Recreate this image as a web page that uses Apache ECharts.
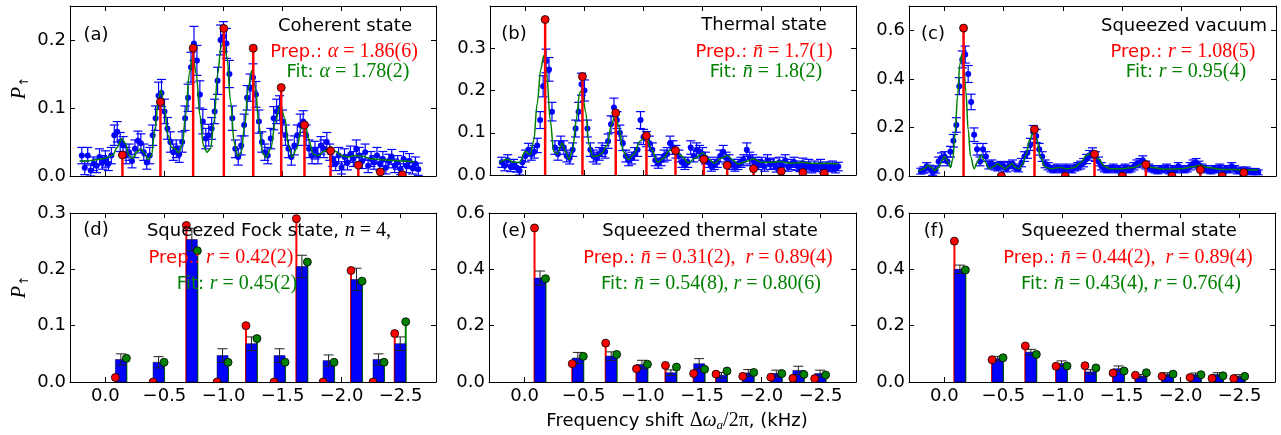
<!DOCTYPE html>
<html><head><meta charset="utf-8">
<script src="https://cdn.jsdelivr.net/npm/echarts@6/dist/echarts.min.js"></script>
<style>html,body{margin:0;padding:0;background:#fff}#c{width:1281px;height:435px}</style>
</head><body><div id="c"></div>
<script>
// ---------- top panels: scan grid (kHz) ----------
const scanStart = 0.2, scanStep = -0.025;

// (a) coherent state
const dataA = [0.030,0.012,0.030,0.008,0.018,0.015,0.028,0.020,0.025,0.018,
0.030,0.060,0.065,0.050,0.045,0.030,0.035,0.022,0.040,0.052,
0.048,0.035,0.020,0.030,0.060,0.085,0.118,0.122,0.095,0.070,
0.050,0.035,0.040,0.032,0.050,0.085,0.115,0.160,0.195,0.170,
0.120,0.080,0.055,0.060,0.070,0.095,0.140,0.200,0.205,0.195,
0.150,0.085,0.040,0.028,0.045,0.075,0.115,0.130,0.145,0.120,
0.080,0.050,0.035,0.030,0.055,0.085,0.095,0.100,0.080,0.060,
0.040,0.028,0.045,0.060,0.075,0.080,0.060,0.040,0.030,0.038,
0.030,0.045,0.040,0.050,0.035,0.025,0.018,0.030,0.012,0.028,
0.020,0.032,0.025,0.040,0.030,0.022,0.035,0.015,0.025,0.020,
0.030,0.018,0.025,0.012,0.022,0.028,0.015,0.020,0.010,0.025,
0.015,0.022,0.012,0.018,0.010];
const errA = [0.012,0.010,0.012,0.008,0.010,0.010,0.012,0.010,0.012,0.010,
0.012,0.015,0.015,0.014,0.013,0.012,0.012,0.010,0.013,0.014,
0.014,0.012,0.010,0.012,0.015,0.018,0.020,0.020,0.018,0.016,
0.015,0.012,0.013,0.012,0.015,0.018,0.020,0.022,0.025,0.022,
0.020,0.018,0.015,0.016,0.016,0.018,0.020,0.022,0.022,0.022,
0.020,0.018,0.013,0.012,0.014,0.016,0.018,0.020,0.020,0.019,
0.017,0.015,0.012,0.012,0.015,0.017,0.018,0.018,0.017,0.015,
0.013,0.012,0.014,0.015,0.016,0.016,0.015,0.013,0.012,0.013,
0.012,0.013,0.013,0.014,0.012,0.011,0.010,0.012,0.009,0.012,
0.011,0.012,0.011,0.013,0.012,0.011,0.012,0.010,0.011,0.010,
0.012,0.010,0.011,0.009,0.010,0.011,0.010,0.010,0.008,0.011,
0.010,0.011,0.009,0.010,0.009];
// fit curve, listed as [|shift| kHz, P]
const fitA = [[-0.22,0.022],[-0.15,0.022],[-0.08,0.024],[0.00,0.026],[0.06,0.030],[0.10,0.042],[0.14,0.055],[0.17,0.048],[0.20,0.030],[0.23,0.026],[0.27,0.036],[0.30,0.040],[0.33,0.034],[0.36,0.024],[0.39,0.030],[0.42,0.070],[0.45,0.115],[0.47,0.126],[0.50,0.100],[0.53,0.060],[0.56,0.042],[0.59,0.040],[0.62,0.034],[0.65,0.045],[0.68,0.090],[0.71,0.150],[0.74,0.177],[0.77,0.150],[0.80,0.090],[0.83,0.045],[0.86,0.035],[0.89,0.040],[0.92,0.080],[0.95,0.150],[0.98,0.190],[1.00,0.198],[1.03,0.175],[1.06,0.110],[1.09,0.050],[1.12,0.029],[1.15,0.035],[1.18,0.075],[1.21,0.130],[1.24,0.155],[1.27,0.130],[1.30,0.075],[1.33,0.035],[1.36,0.027],[1.40,0.040],[1.44,0.080],[1.48,0.104],[1.52,0.085],[1.55,0.045],[1.58,0.028],[1.62,0.040],[1.66,0.070],[1.69,0.078],[1.72,0.055],[1.76,0.032],[1.80,0.030],[1.85,0.036],[1.91,0.043],[1.95,0.036],[2.00,0.030],[2.05,0.028],[2.12,0.030],[2.18,0.029],[2.25,0.025],[2.33,0.024],[2.42,0.023],[2.52,0.022],[2.62,0.021]];
const stemPosA = [-0.144,-0.466,-0.743,-1.003,-1.252,-1.489,-1.686,-1.907,-2.142,-2.329,-2.515];
const prepA = [0.031,0.109,0.188,0.217,0.188,0.130,0.075,0.037,0.016,0.006,0.002];

// (b) thermal state
const dataB = [0.030,0.022,0.035,0.020,0.025,0.018,0.010,0.030,0.045,0.060,
0.050,0.055,0.070,0.130,0.210,0.270,0.250,0.150,0.065,0.050,
0.075,0.065,0.045,0.040,0.060,0.110,0.150,0.215,0.200,0.110,
0.060,0.045,0.040,0.050,0.060,0.055,0.080,0.120,0.160,0.130,
0.100,0.075,0.045,0.035,0.040,0.050,0.060,0.130,0.090,0.085,
0.075,0.060,0.035,0.028,0.035,0.045,0.050,0.075,0.065,0.055,
0.045,0.030,0.025,0.030,0.065,0.045,0.060,0.055,0.050,0.040,
0.030,0.020,0.025,0.030,0.045,0.055,0.040,0.035,0.025,0.020,
0.025,0.030,0.035,0.060,0.040,0.035,0.030,0.025,0.030,0.020,
0.035,0.025,0.028,0.018,0.030,0.022,0.035,0.020,0.025,0.030,
0.022,0.018,0.028,0.020,0.025,0.015,0.022,0.018,0.025,0.015,
0.020,0.018,0.022,0.015,0.020];
const errB = [0.012,0.012,0.013,0.012,0.012,0.011,0.010,0.012,0.014,0.015,
0.015,0.015,0.017,0.020,0.025,0.028,0.028,0.022,0.016,0.015,
0.017,0.016,0.014,0.014,0.016,0.020,0.022,0.026,0.025,0.020,
0.016,0.014,0.014,0.015,0.016,0.015,0.017,0.020,0.022,0.020,
0.018,0.017,0.014,0.013,0.014,0.015,0.016,0.020,0.018,0.018,
0.017,0.016,0.013,0.012,0.013,0.014,0.015,0.017,0.016,0.015,
0.014,0.012,0.012,0.012,0.016,0.014,0.016,0.015,0.015,0.014,
0.012,0.011,0.012,0.012,0.014,0.015,0.014,0.013,0.012,0.011,
0.012,0.012,0.013,0.016,0.014,0.013,0.012,0.012,0.012,0.011,
0.013,0.012,0.012,0.011,0.012,0.011,0.013,0.011,0.012,0.012,
0.011,0.010,0.012,0.011,0.012,0.010,0.011,0.010,0.012,0.010,
0.011,0.010,0.011,0.010,0.010];
const fitB = [[-0.22,0.030],[-0.15,0.037],[-0.10,0.030],[-0.05,0.030],[0.00,0.056],[0.04,0.048],[0.07,0.080],[0.10,0.170],[0.13,0.250],[0.155,0.283],[0.18,0.240],[0.21,0.130],[0.24,0.055],[0.27,0.050],[0.31,0.075],[0.34,0.055],[0.37,0.037],[0.40,0.060],[0.43,0.130],[0.46,0.195],[0.48,0.200],[0.51,0.150],[0.54,0.070],[0.57,0.044],[0.61,0.045],[0.65,0.052],[0.69,0.070],[0.73,0.120],[0.76,0.144],[0.79,0.115],[0.83,0.055],[0.87,0.036],[0.92,0.050],[0.97,0.080],[1.02,0.092],[1.07,0.060],[1.12,0.030],[1.17,0.040],[1.22,0.058],[1.27,0.064],[1.32,0.045],[1.38,0.029],[1.44,0.040],[1.50,0.052],[1.55,0.038],[1.60,0.028],[1.66,0.040],[1.71,0.046],[1.76,0.035],[1.80,0.026],[1.87,0.032],[1.93,0.038],[2.00,0.030],[2.08,0.030],[2.15,0.032],[2.25,0.028],[2.35,0.030],[2.45,0.027],[2.55,0.027],[2.65,0.026]];
const stemPosB = [-0.167,-0.483,-0.765,-1.025,-1.271,-1.511,-1.709,-1.932,-2.167,-2.350,-2.531];
const prepB = [0.368,0.233,0.147,0.093,0.058,0.037,0.023,0.015,0.009,0.006,0.004];

// (c) squeezed vacuum
const dataC = [0.020,0.025,0.040,0.030,0.015,0.025,0.060,0.075,0.080,0.060,
0.100,0.145,0.210,0.370,0.480,0.500,0.420,0.305,0.170,0.110,
0.060,0.110,0.080,0.045,0.050,0.040,0.035,0.045,0.040,0.030,
0.045,0.050,0.035,0.030,0.055,0.080,0.095,0.130,0.180,0.165,
0.110,0.080,0.050,0.040,0.030,0.025,0.035,0.030,0.025,0.035,
0.030,0.025,0.035,0.040,0.045,0.055,0.070,0.085,0.095,0.080,
0.060,0.040,0.030,0.025,0.030,0.035,0.025,0.030,0.020,0.035,
0.025,0.030,0.040,0.050,0.055,0.065,0.045,0.035,0.030,0.025,
0.020,0.030,0.025,0.035,0.020,0.030,0.025,0.040,0.030,0.025,
0.030,0.040,0.050,0.055,0.045,0.035,0.030,0.025,0.020,0.030,
0.025,0.035,0.020,0.030,0.025,0.040,0.030,0.020,0.025,0.015,
0.025,0.020,0.015,0.020,0.015];
const errC = [0.012,0.013,0.015,0.014,0.012,0.013,0.018,0.020,0.020,0.018,
0.022,0.026,0.030,0.035,0.035,0.035,0.035,0.032,0.028,0.024,
0.018,0.024,0.020,0.016,0.016,0.015,0.014,0.015,0.015,0.013,
0.015,0.016,0.014,0.013,0.017,0.020,0.022,0.025,0.028,0.027,
0.024,0.020,0.016,0.015,0.013,0.012,0.014,0.013,0.012,0.014,
0.013,0.012,0.014,0.015,0.016,0.017,0.019,0.020,0.021,0.020,
0.018,0.015,0.013,0.012,0.013,0.014,0.012,0.013,0.012,0.014,
0.012,0.013,0.015,0.016,0.017,0.018,0.016,0.014,0.013,0.012,
0.011,0.013,0.012,0.014,0.011,0.013,0.012,0.015,0.013,0.012,
0.013,0.015,0.016,0.017,0.016,0.014,0.013,0.012,0.011,0.013,
0.012,0.014,0.011,0.013,0.012,0.015,0.013,0.011,0.012,0.010,
0.012,0.011,0.010,0.011,0.010];
const fitC = [[-0.22,0.020],[-0.17,0.030],[-0.14,0.044],[-0.11,0.035],[-0.08,0.023],[-0.05,0.035],[-0.02,0.065],[0.00,0.080],[0.03,0.060],[0.05,0.035],[0.07,0.070],[0.09,0.180],[0.11,0.330],[0.13,0.460],[0.145,0.500],[0.16,0.470],[0.18,0.350],[0.20,0.190],[0.22,0.080],[0.25,0.030],[0.28,0.060],[0.31,0.086],[0.34,0.060],[0.38,0.030],[0.42,0.040],[0.45,0.051],[0.48,0.040],[0.51,0.030],[0.54,0.040],[0.57,0.050],[0.60,0.035],[0.63,0.030],[0.66,0.050],[0.69,0.090],[0.72,0.150],[0.75,0.182],[0.78,0.150],[0.81,0.080],[0.85,0.037],[0.90,0.030],[0.97,0.035],[1.04,0.030],[1.10,0.035],[1.15,0.055],[1.20,0.085],[1.25,0.097],[1.30,0.070],[1.35,0.040],[1.40,0.030],[1.50,0.030],[1.60,0.035],[1.66,0.048],[1.70,0.050],[1.75,0.035],[1.85,0.028],[2.00,0.030],[2.10,0.038],[2.16,0.044],[2.22,0.035],[2.35,0.027],[2.50,0.026],[2.65,0.025]];
const stemPosC = [-0.161,-0.480,-0.760,-1.020,-1.267,-1.503,-1.701,-1.921,-2.161,-2.345,-2.528];
const prepC = [0.609,0.0,0.192,0.0,0.090,0.0,0.047,0.0,0.026,0.0,0.014];

// ---------- bottom panels: number-state populations ----------
const barPos = [-0.131,-0.450,-0.732,-0.992,-1.237,-1.475,-1.664,-1.890,-2.127,-2.313,-2.497];
// (d) squeezed Fock state
const prepD = [0.008,0.0,0.278,0.0,0.100,0.0,0.290,0.0,0.198,0.0,0.086];
const measD = [0.040,0.035,0.253,0.047,0.068,0.047,0.205,0.038,0.182,0.040,0.068];
const errD  = [0.010,0.010,0.020,0.012,0.012,0.012,0.020,0.010,0.020,0.010,0.012];
const fitD  = [0.042,0.035,0.233,0.035,0.077,0.035,0.213,0.035,0.179,0.035,0.107];
// (e) squeezed thermal state
const prepE = [0.547,0.065,0.138,0.047,0.059,0.030,0.028,0.020,0.017,0.013,0.012];
const measE = [0.369,0.085,0.092,0.062,0.033,0.065,0.024,0.032,0.030,0.041,0.030];
const errE  = [0.025,0.020,0.015,0.015,0.010,0.018,0.010,0.012,0.012,0.015,0.012];
const fitE  = [0.367,0.091,0.098,0.063,0.053,0.045,0.039,0.034,0.030,0.027,0.025];
// (f) squeezed thermal state
const prepF = [0.500,0.079,0.128,0.056,0.058,0.032,0.024,0.020,0.016,0.013,0.012];
const measF = [0.400,0.083,0.106,0.065,0.036,0.047,0.021,0.027,0.026,0.027,0.020];
const errF  = [0.015,0.008,0.010,0.010,0.008,0.010,0.006,0.006,0.006,0.006,0.006];
const fitF  = [0.398,0.086,0.098,0.057,0.050,0.039,0.033,0.028,0.026,0.022,0.020];

// ---------- axes ----------
const xTicks = [0,-0.5,-1.0,-1.5,-2.0,-2.5];
const xMin = -2.8, xMax = 0.3;
const yMaxes = [0.25,0.4,0.7,0.3,0.6,0.6];
const yTicks = [[0,0.1,0.2],[0,0.1,0.2,0.3],[0,0.2,0.4,0.6],[0,0.1,0.2,0.3],[0,0.2,0.4,0.6],[0,0.2,0.4,0.6]];

const grids = [
 {left:70,top:6,width:366,height:170},
 {left:490,top:6,width:366,height:169},
 {left:909,top:6,width:367,height:170},
 {left:70,top:213,width:366,height:169},
 {left:489,top:213,width:367,height:169},
 {left:909,top:213,width:366,height:169}
];
const FONT = 'DejaVu Sans';
const fmtX = v => Math.abs(v) < 1e-9 ? '0.0' : '\u2212' + Math.abs(v).toFixed(1);
const xAxis = [], yAxis = [];
grids.forEach((g,p)=>{
  ['bottom','top'].forEach((pos,j)=>xAxis.push({type:'value',gridIndex:p,position:pos,inverse:true,min:xMin,max:xMax,
    axisLine:{show:true,onZero:false,lineStyle:{color:'#000',width:1}},
    axisTick:{show:true,inside:true,length:5,customValues:xTicks,lineStyle:{color:'#000',width:1}},
    axisLabel:{show:(p>=3 && j===0),customValues:xTicks,formatter:fmtX,fontSize:18,color:'#000',fontFamily:FONT,margin:5},
    splitLine:{show:false}}));
  ['left','right'].forEach((pos,j)=>yAxis.push({type:'value',gridIndex:p,position:pos,min:0,max:yMaxes[p],
    axisLine:{show:true,onZero:false,lineStyle:{color:'#000',width:1}},
    axisTick:{show:true,inside:true,length:5,customValues:yTicks[p],lineStyle:{color:'#000',width:1}},
    axisLabel:{show:j===0,customValues:yTicks[p],formatter:v=>v.toFixed(1),fontSize:18,color:'#000',fontFamily:FONT,margin:4},
    splitLine:{show:false}}));
});

// ---------- renderers ----------
function renderErr(params, api){
  const x=api.value(0), y=api.value(1), e=api.value(2);
  const a=api.coord([x,y+e]), b=api.coord([x,y-e]), w=4.5;
  const st={stroke:'#0000ff',lineWidth:1.2};
  return {type:'group',children:[
    {type:'line',shape:{x1:a[0],y1:a[1],x2:b[0],y2:b[1]},style:st},
    {type:'line',shape:{x1:a[0]-w,y1:a[1],x2:a[0]+w,y2:a[1]},style:st},
    {type:'line',shape:{x1:b[0]-w,y1:b[1],x2:b[0]+w,y2:b[1]},style:st}]};
}
function renderStem(params, api){
  const x=api.value(0), y=api.value(1);
  const t=api.coord([x,y]), b=api.coord([x,0]);
  return {type:'group',children:[
    {type:'line',shape:{x1:b[0],y1:b[1],x2:t[0],y2:t[1]},style:{stroke:'#ff0000',lineWidth:2.5}},
    {type:'circle',shape:{cx:t[0],cy:t[1],r:4},style:{fill:'#ff0000',stroke:'#000',lineWidth:0.8}}]};
}
function renderGroup(params, api){
  const x=api.value(0), pr=api.value(1), m=api.value(2), e=api.value(3), f=api.value(4);
  const base=api.coord([x,0]); const cx=base[0], y0=base[1];
  const yp=api.coord([x,pr])[1], ym=api.coord([x,m])[1], yhi=api.coord([x,m+e])[1], ylo=api.coord([x,m-e])[1], yf=api.coord([x,f])[1];
  const hw=5.5, rx=cx-hw, gx=cx+hw, cw=5;
  const est={stroke:'#222',lineWidth:1};
  return {type:'group',children:[
    {type:'line',shape:{x1:rx,y1:y0,x2:rx,y2:yp},style:{stroke:'#ff0000',lineWidth:2}},
    {type:'line',shape:{x1:gx,y1:y0,x2:gx,y2:yf},style:{stroke:'#008000',lineWidth:2}},
    {type:'rect',shape:{x:cx-hw,y:ym,width:2*hw,height:y0-ym},style:{fill:'#0000ff',stroke:'#000033',lineWidth:0.5}},
    {type:'line',shape:{x1:cx,y1:ylo,x2:cx,y2:yhi},style:est},
    {type:'line',shape:{x1:cx-cw,y1:yhi,x2:cx+cw,y2:yhi},style:est},
    {type:'line',shape:{x1:cx-cw,y1:ylo,x2:cx+cw,y2:ylo},style:est},
    {type:'circle',shape:{cx:rx,cy:yp,r:4},style:{fill:'#ff0000',stroke:'#000',lineWidth:0.8}},
    {type:'circle',shape:{cx:gx,cy:yf,r:4},style:{fill:'#008000',stroke:'#000',lineWidth:0.8}}]};
}

const series = [];
function topPanel(p, data, err, fit, stemPos, prep){
  const pts = data.map((y,i)=>[scanStart + scanStep*i, y, err[i]]);
  const ax = {xAxisIndex:2*p, yAxisIndex:2*p};
  series.push(Object.assign({type:'custom',renderItem:renderErr,data:pts,encode:{x:0,y:1},clip:true,z:2,silent:true},ax));
  series.push(Object.assign({type:'scatter',data:pts.map(d=>[d[0],d[1]]),symbolSize:6,itemStyle:{color:'#0000ff',opacity:1},z:3,silent:true},ax));
  series.push(Object.assign({type:'line',data:fit.map(d=>[-d[0],d[1]]),showSymbol:false,smooth:0.35,smoothMonotone:'x',lineStyle:{color:'#008000',width:1.5},z:4,silent:true,clip:true},ax));
  series.push(Object.assign({type:'custom',renderItem:renderStem,data:stemPos.map((x,i)=>[x,prep[i]]),encode:{x:0,y:1},clip:true,z:5,silent:true},ax));
}
function bottomPanel(p, prep, meas, err, fit){
  const rows = barPos.map((x,i)=>[x,prep[i],meas[i],err[i],fit[i]]);
  series.push({type:'custom',xAxisIndex:2*p,yAxisIndex:2*p,renderItem:renderGroup,data:rows,encode:{x:0,y:2},clip:true,z:5,silent:true});
}
topPanel(0,dataA,errA,fitA,stemPosA,prepA);
topPanel(1,dataB,errB,fitB,stemPosB,prepB);
topPanel(2,dataC,errC,fitC,stemPosC,prepC);
bottomPanel(3,prepD,measD,errD,fitD);
bottomPanel(4,prepE,measE,errE,fitE);
bottomPanel(5,prepF,measF,errF,fitF);

// ---------- texts ----------
function richFor(color){
  return {
    s:{fontFamily:FONT,fontSize:18,fill:color},
    i:{fontFamily:'Liberation Serif',fontStyle:'italic',fontSize:20,fill:color},
    r:{fontFamily:'Liberation Serif',fontSize:20,fill:color},
    sub:{fontFamily:'Liberation Serif',fontStyle:'italic',fontSize:13,fill:color,verticalAlign:'bottom',lineHeight:22},
    ar:{fontFamily:FONT,fontSize:12,fill:color,verticalAlign:'bottom',lineHeight:22}
  };
}
function txt(x,y,text,color,rot){
  return {type:'text',x:x,y:y,rotation:rot||0,z:100,silent:true,
    style:{text:text,rich:richFor(color),fill:color,font:'18px '+FONT,align:'center',verticalAlign:'middle',textAlign:'center',textVerticalAlign:'middle'}};
}
const RED='#ff0000', GRN='#008000', BLK='#000000';
const nb = 'n\u0304';
const graphics = [
  txt(96,35,'{s|(a)}',BLK), txt(514,34,'{s|(b)}',BLK), txt(933,34,'{s|(c)}',BLK),
  txt(96,230,'{s|(d)}',BLK), txt(514,231,'{s|(e)}',BLK), txt(934,231,'{s|(f)}',BLK),
  txt(345,26,'{s|Coherent state}',BLK),
  txt(344,52,'{s|Prep.: }{i|α}{r| = 1.86(6)}',RED),
  txt(348,72,'{s|Fit: }{i|α}{r| = 1.78(2)}',GRN),
  txt(764,25,'{s|Thermal state}',BLK),
  txt(764,52,'{s|Prep.: }{i|'+nb+'}{r| = 1.7(1)}',RED),
  txt(766,72,'{s|Fit: }{i|'+nb+'}{r| = 1.8(2)}',GRN),
  txt(1184,26,'{s|Squeezed vacuum}',BLK),
  txt(1183,52,'{s|Prep.: }{i|r}{r| = 1.08(5)}',RED),
  txt(1186,72,'{s|Fit: }{i|r}{r| = 0.95(4)}',GRN),
  txt(269,231,'{s|Squeezed Fock state, }{i|n}{r| = 4,}',BLK),
  txt(221,258,'{s|Prep.: }{i|r}{r| = 0.42(2)}',RED),
  txt(237,284,'{s|Fit: }{i|r}{r| = 0.45(2)}',GRN),
  txt(710,231,'{s|Squeezed thermal state}',BLK),
  txt(708,258,'{s|Prep.: }{i|'+nb+'}{r| = 0.31(2),  }{i|r}{r| = 0.89(4)}',RED),
  txt(711,284,'{s|Fit: }{i|'+nb+'}{r| = 0.54(8), }{i|r}{r| = 0.80(6)}',GRN),
  txt(1129,231,'{s|Squeezed thermal state}',BLK),
  txt(1128,258,'{s|Prep.: }{i|'+nb+'}{r| = 0.44(2),  }{i|r}{r| = 0.89(4)}',RED),
  txt(1131,284,'{s|Fit: }{i|'+nb+'}{r| = 0.43(4), }{i|r}{r| = 0.76(4)}',GRN),
  txt(677,421,'{s|Frequency shift }{r|Δ}{i|ω}{sub|a}{r|/2π}{s|, (kHz)}',BLK),
  txt(20,88,'{i|P}{ar|↑}',BLK,Math.PI/2),
  txt(20,287,'{i|P}{ar|↑}',BLK,Math.PI/2)
];

const chart = echarts.init(document.getElementById('c'),null,{renderer:'canvas'});
chart.setOption({animation:false,backgroundColor:'#fff',grid:grids,xAxis:xAxis,yAxis:yAxis,series:series,graphic:graphics});
</script></body></html>
